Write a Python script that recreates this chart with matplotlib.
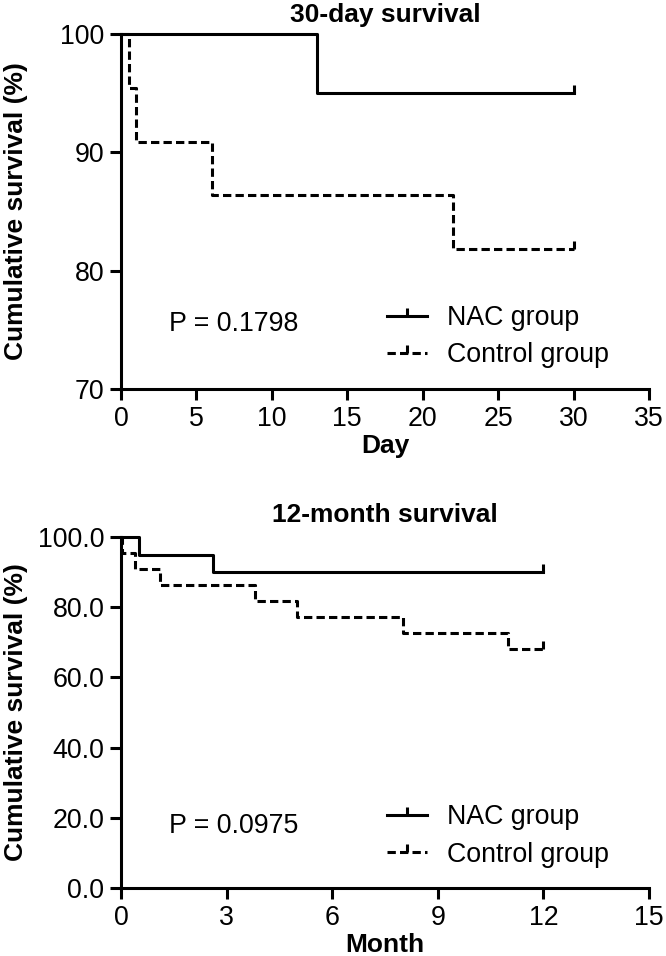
import matplotlib
matplotlib.use("Agg")
import matplotlib.pyplot as plt
from matplotlib.ticker import FormatStrFormatter

plt.rcParams['font.family'] = ['Liberation Sans', 'DejaVu Sans']
plt.rcParams['lines.scale_dashes'] = False

# 30-day survival (days, %)
day_nac_t = [0, 13, 13, 30]
day_nac_s = [100.0, 100.0, 95.0, 95.0]
day_ctl_t = [0, 0.5, 1.0, 6.0, 22.0, 30]
day_ctl_s = [100.0, 95.45, 90.91, 86.36, 81.82, 81.82]

# 12-month survival (months, %)
mon_nac_t = [0, 0.5, 2.6, 12]
mon_nac_s = [100.0, 95.0, 90.0, 90.0]
mon_ctl_t = [0, 0.02, 0.4, 1.1, 3.8, 5.0, 8.0, 11.0, 12]
mon_ctl_s = [100.0, 95.45, 90.91, 86.36, 81.82, 77.27, 72.73, 68.18, 68.18]

labels = ["NAC group", "Control group"]
p_texts = ["P = 0.1798", "P = 0.0975"]

FS = 19.3
BFS = 19
LW = 2.2
DASH = (6, 3)

fig = plt.figure(figsize=(6.66, 9.56), dpi=100)
ax1 = fig.add_axes([0.1817, 0.5931, 0.7928, 0.3713])
ax2 = fig.add_axes([0.1817, 0.0711, 0.7928, 0.3672])


def km(ax, t, s, dashed, label):
    ln, = ax.step(t, s, where='post', color='black', lw=LW,
                  marker=2, markersize=6, markeredgewidth=LW,
                  markevery=[len(t) - 1], clip_on=False, label=label)
    if dashed:
        ln.set_dashes(DASH)
    return ln


def style(ax, xlim, xticks, ylim, yticks, title, tpad, xlabel):
    for sp in ['top', 'right']:
        ax.spines[sp].set_visible(False)
    for sp in ['left', 'bottom']:
        ax.spines[sp].set_linewidth(LW)
    ax.set_xlim(*xlim)
    ax.set_ylim(*ylim)
    ax.set_xticks(xticks)
    ax.set_yticks(yticks)
    ax.tick_params(direction='out', length=8, width=LW, labelsize=FS, pad=4)
    ax.set_title(title, fontsize=BFS, fontweight='bold', pad=tpad)
    ax.set_xlabel(xlabel, fontsize=BFS, fontweight='bold', labelpad=2)
    ax.set_ylabel("Cumulative survival (%)", fontsize=BFS, fontweight='bold')
    ax.yaxis.set_label_coords(-0.176, 0.5)


def legend(ax):
    ax.legend(loc='lower left', bbox_to_anchor=(0.504, 0.058), frameon=False,
              fontsize=FS, handlelength=1.5, handletextpad=0.75,
              labelspacing=0.42, borderpad=0, borderaxespad=0)


km(ax1, day_nac_t, day_nac_s, False, labels[0])
km(ax1, day_ctl_t, day_ctl_s, True, labels[1])
style(ax1, (0, 35), range(0, 36, 5), (70, 100), [70, 80, 90, 100],
      "30-day survival", 8.5, "Day")
ax1.text(3.2, 75.5, p_texts[0], fontsize=FS, va='center')
legend(ax1)

km(ax2, mon_nac_t, mon_nac_s, False, labels[0])
km(ax2, mon_ctl_t, mon_ctl_s, True, labels[1])
style(ax2, (0, 15), range(0, 16, 3), (0, 100), range(0, 101, 20),
      "12-month survival", 10.5, "Month")
ax2.yaxis.set_major_formatter(FormatStrFormatter('%.1f'))
ax2.text(1.36, 17.7, p_texts[1], fontsize=FS, va='center')
legend(ax2)

fig.savefig("out.png", dpi=100)
